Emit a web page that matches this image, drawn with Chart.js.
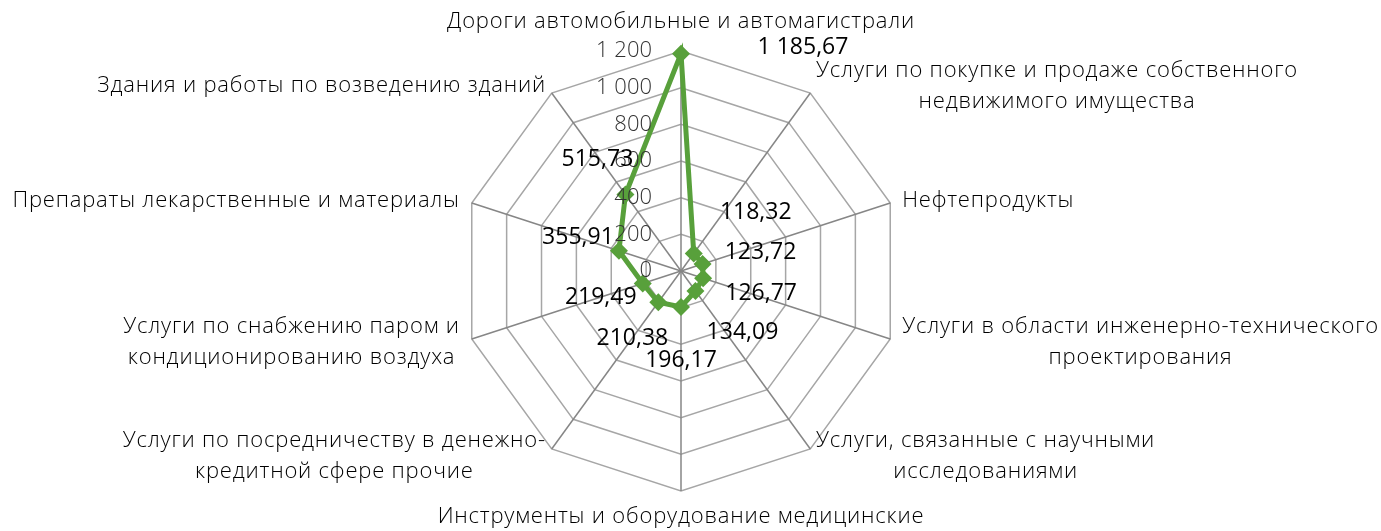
<!DOCTYPE html>
<html lang="ru">
<head>
<meta charset="utf-8">
<title>Радарная диаграмма</title>
<script src="https://cdn.jsdelivr.net/npm/chart.js@4/dist/chart.umd.min.js"></script>
<style>
	html, body { margin: 0; padding: 0; background: #fff; }
	#wrap { width: 1381px; height: 531px; position: relative; }
</style>
</head>
<body>
<div id="wrap"><canvas id="radar-chart"></canvas></div>
<script>
const categories = [
	['Дороги автомобильные и автомагистрали'],
	['Услуги по покупке и продаже собственного', 'недвижимого имущества'],
	['Нефтепродукты'],
	['Услуги в области инженерно-технического', 'проектирования'],
	['Услуги, связанные с научными', 'исследованиями'],
	['Инструменты и оборудование медицинские'],
	['Услуги по посредничеству в денежно-', 'кредитной сфере прочие'],
	['Услуги по снабжению паром и', 'кондиционированию воздуха'],
	['Препараты лекарственные и материалы'],
	['Здания и работы по возведению зданий'],
];

const values = [1185.67, 118.32, 123.72, 126.77, 134.09, 196.17, 210.38, 219.49, 355.91, 515.73];

const tickValues = [0, 200, 400, 600, 800, 1000, 1200];

const green = '#58a03b';
const labelFont = '300 22px "Open Sans"';
const tickFont = '300 22px "Open Sans"';
const valueFont = '400 23px "Open Sans"';

// ru-RU style numbers: "1 200", "1 185,67"
function fmt(v, digits) {
	const parts = v.toFixed(digits).split('.');
	const int = parts[0].replace(/\B(?=(\d{3})+(?!\d))/g, ' ');
	return parts[1] ? int + ',' + parts[1] : int;
}

// where Excel put each value label, relative to its point
const valueOffsets = [
	[122, -6], [62, -41], [58, -12], [58, 15], [47, 42],
	[0, 53], [-26, 36], [-42, 14], [-41, -13], [-28, -35]
];

const pointLabelsPlugin = {
	id: 'pointLabelsPlugin',
	afterDraw(chart) {
		const scale = chart.scales.r;
		const ctx = chart.ctx;
		const lh = 31;
		ctx.save();
		ctx.font = labelFont;
		ctx.letterSpacing = '0.8px';
		ctx.fillStyle = '#000';
		ctx.textAlign = 'center';
		ctx.textBaseline = 'middle';

		categories.forEach((lines, i) => {
			const v = scale.getPointPosition(i, scale.drawingArea);
			const a = scale.getIndexAngle(i);
			const s = Math.sin(a);
			const c = Math.cos(a);
			const w = Math.max(...lines.map(l => ctx.measureText(l).width));
			let cx, cy;

			if (Math.abs(s) < 0.01) {
				cx = v.x;
				cy = c > 0 ? v.y - 29 : v.y + 26;
			} else {
				const gap = 11 * s * s + 2;
				cx = s > 0 ? v.x + gap + w / 2 : v.x - gap - w / 2;
				cy = v.y - c * 9;
			}

			lines.forEach((line, k) => {
				ctx.fillText(line, cx, cy + (k - (lines.length - 1) / 2) * lh);
			});
		});
		ctx.letterSpacing = '0px';

		// tick labels, right aligned left of the vertical axis
		ctx.font = tickFont;
		ctx.fillStyle = '#333';
		ctx.textAlign = 'right';
		tickValues.forEach(t => {
			const d = scale.getDistanceFromCenterForValue(t);
			ctx.fillText(fmt(t, 0), scale.xCenter - 29, scale.yCenter - d);
		});

		// value labels
		const meta = chart.getDatasetMeta(0);
		ctx.font = valueFont;
		ctx.fillStyle = '#000';
		ctx.textAlign = 'center';
		meta.data.forEach((pt, i) => {
			const off = valueOffsets[i];
			ctx.fillText(fmt(values[i], 2), pt.x + off[0], pt.y + off[1]);
		});

		ctx.restore();
	}
};

new Chart(document.querySelector('#radar-chart'), {
	type: 'radar',
	data: {
		labels: categories,
		datasets: [{
			label: 'Значение',
			data: values,
			borderColor: green,
			borderWidth: 5,
			backgroundColor: green,
			fill: false,
			pointStyle: 'rectRot',
			pointRadius: 9,
			pointBorderWidth: 0,
			pointBackgroundColor: green,
		}]
	},
	options: {
		responsive: true,
		maintainAspectRatio: false,
		animation: false,
		layout: {
			padding: { top: 51, bottom: 40, left: 0, right: 19 }
		},
		scales: {
			r: {
				min: 0,
				max: 1200,
				ticks: { display: false, stepSize: 200 },
				pointLabels: { display: false },
				grid: { color: '#a6a6a6', lineWidth: 1.5 },
				angleLines: { color: '#868686', lineWidth: 1.5 },
			}
		},
		plugins: {
			legend: { display: false },
			tooltip: { enabled: false },
		}
	},
	plugins: [pointLabelsPlugin]
});
</script>
</body>
</html>
